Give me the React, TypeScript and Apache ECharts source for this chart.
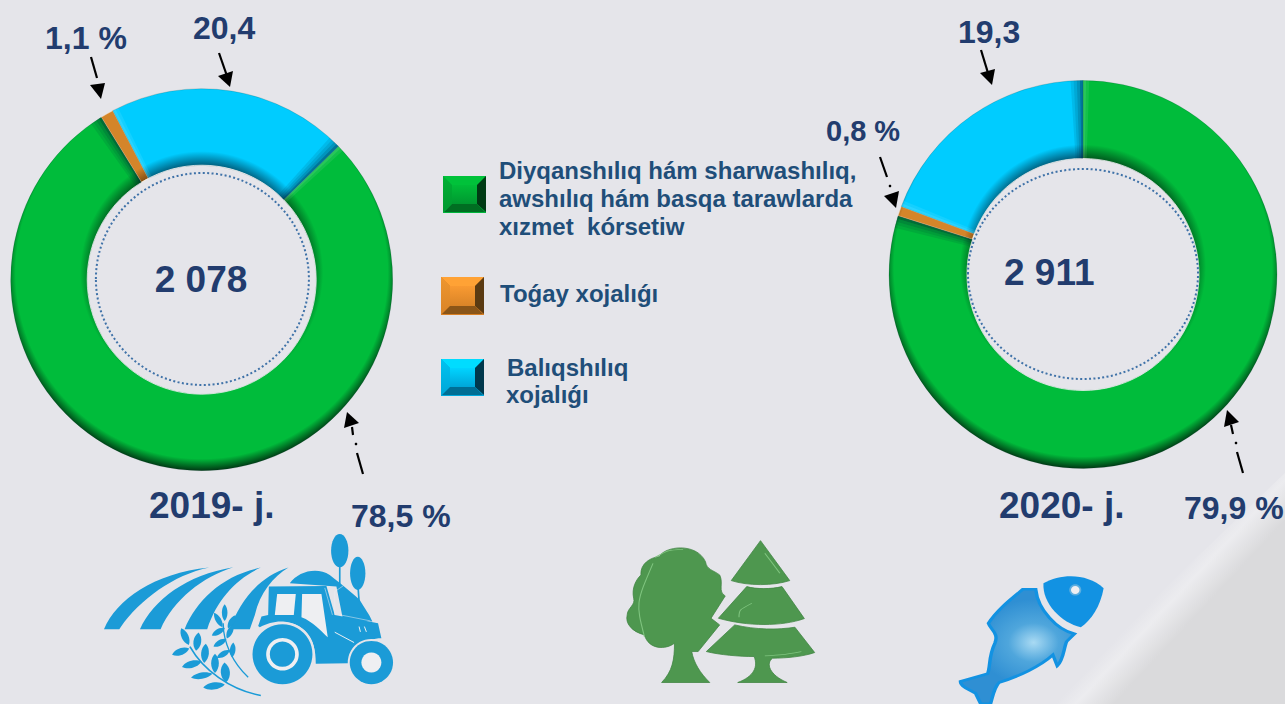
import React, { useEffect, useRef } from "react";
import * as echarts from "echarts";

const categories = [
  "Diyqanshılıq hám sharwashılıq, awshılıq hám basqa tarawlarda xızmet kórsetiw",
  "Toǵay xojalıǵı",
  "Balıqshılıq xojalıǵı",
];
const values2019 = [78.5, 1.1, 20.4];
const values2020 = [79.9, 0.8, 19.3];
const labels2019 = ["78,5 %", "1,1 %", "20,4"];
const labels2020 = ["79,9 %", "0,8 %", "19,3"];
const totals = ["2 078", "2 911"];
const years = ["2019- j.", "2020- j."];
const legendLines = [
  ["Diyqanshılıq hám sharwashılıq,", "awshılıq hám basqa tarawlarda", "xızmet  kórsetiw"],
  ["Toǵay xojalıǵı"],
  ["Balıqshılıq", "xojalıǵı"],
];

const BG = "#E5E5EA";
const LIGHT = "#EEEFF2";
const NAVY = "#223C6E";
const LEGEND_TEXT = "#1F4E79";
const FONT = "Liberation Sans";

const shapes: Record<string, string> = {
  f1: "M42,328 C80,240 190,160 358,143 C250,165 150,240 92,322 L88,328 Z",
  f2: "M150,328 C190,240 290,165 430,142 C340,170 250,240 212,328 Z",
  f3: "M284,328 C320,240 400,165 513,143 C440,175 380,240 352,328 Z",
  f4: "M420,328 C450,240 510,170 596,143 C550,170 510,220 495,285 L480,328 Z",
  hill: "M600,190 C625,155 680,140 720,165 C745,185 790,220 810,240 C825,265 840,285 848,305 L760,300 L740,200 Z",
  body: "M537,200 L710,198 L735,285 L865,310 L875,355 C830,355 790,380 775,430 L678,432 C680,350 640,310 580,305 C560,303 530,310 510,322 L505,318 L515,290 L535,285 Z",
  win2: "M637,222 L695,222 L714,352 C695,335 670,305 635,292 Z",
  leafShape: "M0,-50 C38,-25 38,25 0,50 C-38,25 -38,-25 0,-50 Z",
  broad: "M150,370 C130,390 90,390 80,345 C50,335 35,310 40,285 C40,265 60,255 55,235 C50,205 60,180 72,165 C70,130 95,112 115,110 C125,80 200,65 222,125 C225,150 240,150 255,165 C265,190 250,215 268,228 L235,295 L255,315 L205,395 L190,395 C195,430 210,460 232,488 L120,488 C145,455 150,420 150,370 Z",
  con1: "M350,62 L418,182 C380,198 320,198 282,182 Z",
  con2: "M318,200 C340,208 375,208 400,200 L452,296 C400,320 320,320 252,295 Z",
  con3: "M290,315 C340,330 390,330 430,322 L476,398 C450,410 410,415 378,415 C362,430 370,465 412,488 L297,488 C335,470 345,440 335,410 C300,410 255,405 224,395 Z",
  fishBody: "M990,208 L960,208 C930,240 900,270 880,310 C885,330 905,340 895,370 C880,410 885,440 878,462 L815,485 C815,500 835,510 850,520 L862,552 L885,552 C892,520 895,500 905,488 C950,470 1000,440 1030,405 L1040,438 C1055,420 1055,385 1062,365 L1080,342 C1040,330 995,270 990,208 Z",
  fishHead: "M1008,190 C1050,160 1110,160 1148,205 C1140,260 1120,300 1095,322 C1050,310 1005,250 1008,190 Z",
};
Object.keys(shapes).forEach((k) => {
  echarts.graphic.registerShape("ic_" + k, echarts.graphic.extendPath(shapes[k], {}));
});

const radial = (cx: number, cy: number, r: number, stops: [number, string][]) => ({
  type: "radial",
  x: cx,
  y: cy,
  r,
  global: true,
  colorStops: stops.map(([offset, color]) => ({ offset, color })),
});

function ringFill(cx: number, cy: number, r0: number, r1: number, dark: string, base: string, rim: string) {
  const d = 7;
  const rg = r1 + d;
  return radial(cx, cy - d, rg, [
    [0, dark],
    [(r0 - d) / rg, dark],
    [(r0 + 7) / rg, base],
    [(r1 - 5) / rg, base],
    [1, rim],
  ]);
}

function donut(name: string, values: number[], cx: number, cy: number, r0: number, r1: number, start: number) {
  const colors: [string, string, string][] = [
    ["#005a1e", "#00BC3B", "#003a14"],
    ["#7a4a12", "#D4852A", "#6a3e0e"],
    ["#00607f", "#00CCFF", "#0a6f93"],
  ];
  return {
    type: "pie",
    name,
    center: [cx, cy],
    radius: [r0, r1],
    startAngle: start,
    clockwise: true,
    silent: true,
    z: 2,
    label: { show: false },
    labelLine: { show: false },
    data: values.map((value, i) => ({
      name: categories[i],
      value,
      itemStyle: {
        color: ringFill(cx, cy, r0, r1, colors[i][0], colors[i][1], colors[i][2]),
        borderColor: i === 1 ? "#f4d9b0" : "rgba(0,50,40,0.45)",
        borderWidth: i === 1 ? 0.5 : 0.4,
      },
    })),
  };
}

type Wedge = { cx: number; cy: number; r0: number; r1: number; a0: number; a1: number; fill: string };

function wedges(values: number[], cx: number, cy: number, r0: number, r1: number, startDeg: number): Wedge[] {
  const out: Wedge[] = [];
  const total = values.reduce((a, b) => a + b, 0);
  let ang = (-startDeg * Math.PI) / 180;
  values.forEach((v, i) => {
    const sweep = (v / total) * Math.PI * 2;
    if (i !== 1) {
      const step = 0.016;
      const dark = [0.5, 0.32, 0.2, 0.1];
      dark.forEach((a, k) =>
        out.push({ cx, cy, r0, r1, a0: ang + sweep - step * (k + 1), a1: ang + sweep - step * k, fill: `rgba(0,30,50,${a})` })
      );
      [0.16, 0.08].forEach((a, k) =>
        out.push({ cx, cy, r0, r1, a0: ang + step * k, a1: ang + step * (k + 1), fill: `rgba(255,255,255,${a})` })
      );
    }
    ang += sweep;
  });
  return out;
}

const text = (t: string, x: number, y: number, size: number, fill: string, align = "left") => ({
  type: "text",
  z: 5,
  silent: true,
  style: {
    text: t,
    x,
    y,
    fontSize: size,
    fontWeight: "bold",
    fontFamily: FONT,
    fill,
    align,
    verticalAlign: "middle",
    textAlign: align,
    textVerticalAlign: "middle",
  },
});

const arrow = (segs: number[][], dot: number[] | null, tri: number[][]) => {
  const els: any[] = segs.map((s) => ({
    type: "line",
    z: 5,
    silent: true,
    shape: { x1: s[0], y1: s[1], x2: s[2], y2: s[3] },
    style: { stroke: "#000", lineWidth: 2.2 },
  }));
  if (dot) els.push({ type: "circle", z: 5, silent: true, shape: { cx: dot[0], cy: dot[1], r: 1.3 }, style: { fill: "#000" } });
  els.push({ type: "polygon", z: 5, silent: true, shape: { points: tri }, style: { fill: "#000" } });
  return els;
};

const swatch = (x: number, y: number, w: number, h: number, c: { top: string; mid: string; midB: string; left: string; right: string; bottom: string; edge: string }) => {
  const b = 9;
  const lg = (a: string, e: string) => ({
    type: "linear", x: 0, y: 0, x2: 0, y2: 1,
    colorStops: [{ offset: 0, color: a }, { offset: 1, color: e }],
  });
  const p = (points: number[][], fill: any) => ({ type: "polygon", z: 5, silent: true, shape: { points }, style: { fill } });
  return [
    p([[x, y], [x + w, y], [x + w, y + h], [x, y + h]], c.edge),
    p([[x + b, y + b], [x + w - b, y + b], [x + w - b, y + h - b], [x + b, y + h - b]], lg(c.mid, c.midB)),
    p([[x, y], [x + w, y], [x + w - b, y + b], [x + b, y + b]], c.top),
    p([[x, y], [x + b, y + b], [x + b, y + h - b], [x, y + h - 1]], lg(c.left, c.midB)),
    p([[x + w, y], [x + w - b, y + b], [x + w - b, y + h - b], [x + w, y + h - 1]], c.right),
    p([[x + 1, y + h - 1], [x + b, y + h - b], [x + w - b, y + h - b], [x + w - 1, y + h - 1]], c.bottom),
  ];
};

const ic = (k: string, fill: any, extra: any = {}) => ({ type: "ic_" + k, silent: true, style: { fill, ...extra } });
const leaf = (x: number, y: number, halfWidth: number, halfLength: number, deg: number) => ({
  type: "ic_leafShape",
  silent: true,
  x,
  y,
  rotation: (deg * Math.PI) / 180,
  scaleX: (halfWidth * 1.4) / 38,
  scaleY: (halfLength * 1.25) / 50,
  style: { fill: "#1B9BD7" },
});

function tractor() {
  const B = "#1B9BD7";
  const leaves = [
    [285, 350, 10, 22, 25], [322, 365, 11, 22, -8], [272, 395, 10, 22, -70], [345, 400, 11, 23, -5],
    [305, 433, 10, 24, -75], [375, 430, 11, 23, 0], [335, 467, 9, 26, -80], [406, 457, 13, 24, 5], [372, 498, 10, 26, -82],
    [404, 278, 8, 20, 0], [385, 300, 8, 20, 30], [425, 305, 8, 18, -30], [385, 335, 8, 18, -60], [420, 335, 8, 18, -25],
    [390, 368, 8, 18, -60], [428, 390, 8, 18, -5], [400, 402, 8, 18, -60],
  ];
  return {
    type: "group",
    x: 90,
    y: 520,
    scaleX: 1 / 3,
    scaleY: 1 / 3,
    z: 4,
    children: [
      ic("f1", B), ic("f2", B), ic("f3", B), ic("f4", B), ic("hill", B),
      { type: "ellipse", silent: true, shape: { cx: 750, cy: 92, rx: 26, ry: 50 }, style: { fill: B } },
      { type: "ellipse", silent: true, shape: { cx: 804, cy: 160, rx: 23, ry: 50 }, style: { fill: B } },
      { type: "line", silent: true, shape: { x1: 750, y1: 130, x2: 750, y2: 195 }, style: { stroke: B, lineWidth: 5 } },
      { type: "line", silent: true, shape: { x1: 805, y1: 200, x2: 808, y2: 245 }, style: { stroke: B, lineWidth: 5 } },
      ic("body", B),
      { type: "polygon", silent: true, shape: { points: [[562, 222], [618, 222], [612, 285], [555, 285]] }, style: { fill: LIGHT } },
      ic("win2", LIGHT),
      { type: "polyline", silent: true, shape: { points: [[705, 204], [728, 285]] }, style: { stroke: LIGHT, lineWidth: 1.5, fill: "none" } },
      { type: "polyline", silent: true, shape: { points: [[735, 285], [735, 215], [760, 198]] }, style: { stroke: LIGHT, lineWidth: 1.5, fill: "none" } },
      { type: "polyline", silent: true, shape: { points: [[752, 285], [842, 303]] }, style: { stroke: LIGHT, lineWidth: 1.5, fill: "none" } },
      { type: "line", silent: true, shape: { x1: 735, y1: 337, x2: 793, y2: 368 }, style: { stroke: LIGHT, lineWidth: 3 } },
      { type: "line", silent: true, shape: { x1: 808, y1: 320, x2: 812, y2: 336 }, style: { stroke: LIGHT, lineWidth: 3 } },
      { type: "line", silent: true, shape: { x1: 824, y1: 320, x2: 830, y2: 336 }, style: { stroke: LIGHT, lineWidth: 3 } },
      { type: "circle", silent: true, shape: { cx: 578, cy: 403, r: 97 }, style: { fill: BG } },
      { type: "circle", silent: true, shape: { cx: 578, cy: 403, r: 90 }, style: { fill: B } },
      { type: "circle", silent: true, shape: { cx: 578, cy: 403, r: 49 }, style: { fill: LIGHT } },
      { type: "circle", silent: true, shape: { cx: 578, cy: 403, r: 38 }, style: { fill: B } },
      { type: "circle", silent: true, shape: { cx: 845, cy: 428, r: 71 }, style: { fill: BG } },
      { type: "circle", silent: true, shape: { cx: 845, cy: 428, r: 65 }, style: { fill: B } },
      { type: "circle", silent: true, shape: { cx: 845, cy: 428, r: 30 }, style: { fill: LIGHT } },
      { type: "bezierCurve", silent: true, shape: { x1: 300, y1: 380, x2: 513, y2: 527, cpx1: 340, cpy1: 450, cpx2: 420, cpy2: 510 }, style: { stroke: B, lineWidth: 5, fill: "none" } },
      { type: "bezierCurve", silent: true, shape: { x1: 400, y1: 310, x2: 475, y2: 472, cpx1: 400, cpy1: 370, cpx2: 430, cpy2: 430 }, style: { stroke: B, lineWidth: 4, fill: "none" } },
      ...leaves.map((l) => leaf(l[0], l[1], l[2], l[3], l[4])),
    ],
  };
}

function forest() {
  const G = "#4E974F";
  const s = { stroke: "#3F8442", lineWidth: 2 };
  const hl = (x1: number, y1: number, x2: number, y2: number, cpx1: number, cpy1: number) => ({
    type: "bezierCurve", silent: true,
    shape: { x1, y1, x2, y2, cpx1, cpy1, cpx2: cpx1, cpy2: cpy1 },
    style: { stroke: "#7FC47F", lineWidth: 2.5, fill: "none" },
  });
  return {
    type: "group",
    x: 610,
    y: 520,
    scaleX: 1 / 2.323,
    scaleY: 1 / 3,
    z: 4,
    children: [
      ic("broad", G, s), ic("con1", G, s), ic("con2", G, s), ic("con3", G, s),
      hl(80, 350, 100, 130, 60, 250),
      hl(105, 112, 170, 88, 135, 90),
      hl(360, 100, 395, 160, 378, 130),
      hl(300, 292, 330, 250, 300, 270),
      hl(360, 408, 445, 395, 400, 405),
    ],
  };
}

function fish() {
  const B = "#1292E2";
  return {
    type: "group",
    x: 610,
    y: 520,
    scaleX: 1 / 2.323,
    scaleY: 1 / 3,
    z: 4,
    children: [
      ic("fishBody", radial(985, 368, 130, [[0, "#A9DAF3"], [0.45, "#4FA6DC"], [1, "#2F8FD3"]]), { stroke: B, lineWidth: 8 }),
      ic("fishHead", B),
      { type: "ellipse", silent: true, shape: { cx: 1082, cy: 210, rx: 14, ry: 17 }, style: { fill: "#5AAEE0" } },
      { type: "ellipse", silent: true, shape: { cx: 1082, cy: 210, rx: 10, ry: 12 }, style: { fill: LIGHT } },
    ],
  };
}

export default function App() {
  const ref = useRef<HTMLDivElement>(null);
  useEffect(() => {
    document.body.style.margin = "0";
    const chart = echarts.init(ref.current!, undefined, { renderer: "svg" });
    const L = { cx: 201.7, cy: 279.7, r0: 114.5, r1: 191, start: 44.3 };
    const R = { cx: 1083, cy: 274.5, r0: 116, r1: 194, start: 90 };
    const allWedges = [
      ...wedges(values2019, L.cx, L.cy, L.r0, L.r1, L.start),
      ...wedges(values2020, R.cx, R.cy, R.r0, R.r1, R.start),
    ];
    chart.setOption({
      animation: false,
      backgroundColor: BG,
      series: [
        donut("2019", values2019, L.cx, L.cy, L.r0, L.r1, L.start),
        donut("2020", values2020, R.cx, R.cy, R.r0, R.r1, R.start),
        {
          type: "custom",
          coordinateSystem: "none",
          silent: true,
          z: 3,
          data: allWedges.map((_, i) => i),
          renderItem: (p: any) => {
            const w = allWedges[p.dataIndex];
            return {
              type: "sector",
              silent: true,
              shape: { cx: w.cx, cy: w.cy, r: w.r1, r0: w.r0, startAngle: w.a0, endAngle: w.a1, clockwise: true },
              style: { fill: w.fill },
            };
          },
        },
      ],
      graphic: [
        {
          type: "polygon",
          z: -1,
          silent: true,
          shape: { points: [[1043, 704], [1285, 473], [1285, 704]] },
          style: {
            fill: {
              type: "linear", x: 1162, y: 590, x2: 1193, y2: 619, global: true,
              colorStops: [
                { offset: 0, color: BG },
                { offset: 0.35, color: "#ECECEF" },
                { offset: 1, color: "#DADADC" },
              ],
            },
          },
        },
        { type: "circle", z: 3, silent: true, shape: { cx: L.cx, cy: L.cy, r: L.r0 }, style: { fill: "none", stroke: "rgba(255,255,255,0.7)", lineWidth: 1 } },
        { type: "circle", z: 3, silent: true, shape: { cx: R.cx, cy: R.cy, r: R.r0 }, style: { fill: "none", stroke: "rgba(255,255,255,0.7)", lineWidth: 1 } },
        { type: "ellipse", z: 3, silent: true, shape: { cx: 202.4, cy: 279, rx: 106.5, ry: 106 }, style: { fill: "none", stroke: "#3F72A8", lineWidth: 2, lineDash: [2, 2.4] } },
        { type: "ellipse", z: 3, silent: true, shape: { cx: 1083, cy: 274, rx: 115, ry: 105 }, style: { fill: "none", stroke: "#3F72A8", lineWidth: 2, lineDash: [2, 2.4] } },
        text(totals[0], 201, 279, 37, NAVY, "center"),
        text(totals[1], 1004, 272, 37, NAVY),
        text(years[0], 149, 505, 37, NAVY),
        text(years[1], 999, 505, 37, NAVY),
        text(labels2019[1], 45, 38, 32, NAVY),
        text(labels2019[2], 193, 28, 32, NAVY),
        text(labels2019[0], 351, 516, 32, NAVY),
        text(labels2020[2], 958, 32, 32, NAVY),
        text(labels2020[1], 826, 131, 29, NAVY),
        text(labels2020[0], 1184, 508, 32, NAVY),
        ...arrow([[91, 57, 97, 78]], null, [[90, 85], [105, 83], [101, 99]]),
        ...arrow([[219, 53, 227, 76]], null, [[218, 76], [233, 71], [230, 87]]),
        ...arrow([[981, 50, 988, 73]], null, [[980, 73], [995, 69], [992, 85]]),
        ...arrow([[880, 157, 887, 177]], [890, 186], [[884, 196], [899, 191], [896, 208]]),
        ...arrow([[363, 474, 357, 453], [353, 435, 352, 427]], [356, 444], [[344, 428], [359, 423], [347, 412]]),
        ...arrow([[1243, 473, 1237, 452], [1233, 434, 1231, 425]], [1236, 443], [[1224, 427], [1239, 422], [1227, 410]]),
        ...swatch(443, 176, 43, 37, { edge: "#00B53C", top: "#00C23A", mid: "#00BC38", midB: "#009830", left: "#00B034", right: "#003A14", bottom: "#006E22" }),
        ...swatch(441, 277, 43, 38, { edge: "#D97F22", top: "#FFA235", mid: "#F99A32", midB: "#D98428", left: "#EE962F", right: "#5A3A12", bottom: "#8A5518" }),
        ...swatch(441, 359, 43, 37, { edge: "#00A8DC", top: "#00DCFF", mid: "#00D4FF", midB: "#00A6D8", left: "#00C4F0", right: "#00384C", bottom: "#006E94" }),
        text(legendLines[0][0], 499, 170, 24, LEGEND_TEXT),
        text(legendLines[0][1], 499, 198, 24, LEGEND_TEXT),
        text(legendLines[0][2], 499, 226, 24, LEGEND_TEXT),
        text(legendLines[1][0], 500, 293, 24, LEGEND_TEXT),
        text(legendLines[2][0], 507, 367, 24, LEGEND_TEXT),
        text(legendLines[2][1], 506, 394, 24, LEGEND_TEXT),
        tractor(),
        forest(),
        fish(),
      ],
    });
    return () => chart.dispose();
  }, []);
  return <div ref={ref} style={{ width: 1285, height: 704, position: "absolute", left: 0, top: 0 }} />;
}
